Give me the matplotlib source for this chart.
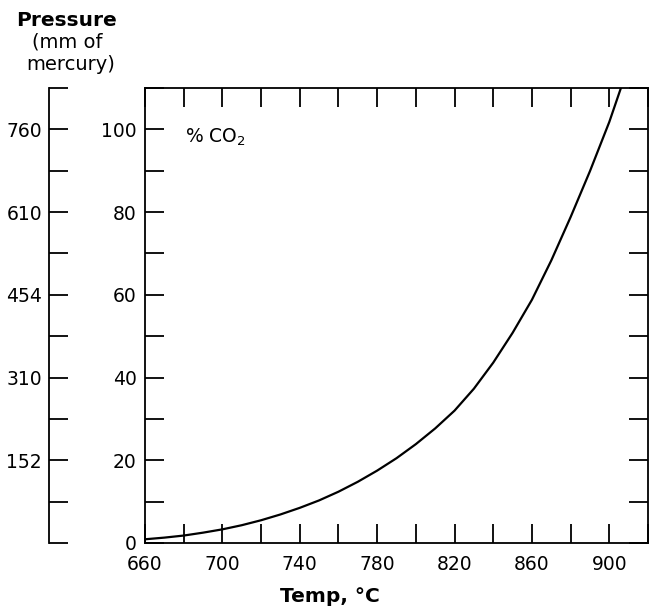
import matplotlib
matplotlib.use("Agg")
import matplotlib.pyplot as plt
from matplotlib.ticker import MultipleLocator, FixedLocator, FixedFormatter

plt.rcParams['font.family'] = ['DejaVu Sans']

# Data
temps = [660, 670, 680, 690, 700, 710, 720, 730, 740, 750, 760, 770, 780, 790,
         800, 810, 820, 830, 840, 850, 860, 870, 880, 890, 900, 906]
pct_co2 = [0.9, 1.3, 1.8, 2.5, 3.3, 4.3, 5.5, 6.9, 8.5, 10.3, 12.4, 14.8, 17.5, 20.5,
           23.9, 27.7, 32.0, 37.3, 43.6, 50.8, 58.8, 68.3, 78.8, 89.9, 101.8, 110.0]

x_major = [660, 700, 740, 780, 820, 860, 900]
y_major = [0, 20, 40, 60, 80, 100]
pressure_pos = [20, 40, 60, 80, 100]
pressure_labels = ["152", "310", "454", "610", "760"]

W, H = 649, 608
fig = plt.figure(figsize=(W / 100, H / 100), dpi=100)

left, right, top, bottom = 145, 648, 88, 543
ax = fig.add_axes([left / W, 1 - bottom / H, (right - left) / W, (bottom - top) / H])
ax.plot(temps, pct_co2, color='black', lw=1.6)
ax.set_xlim(660, 920)
ax.set_ylim(0, 110)

for s in ax.spines.values():
    s.set_linewidth(1.3)

ax.xaxis.set_major_locator(FixedLocator(x_major))
ax.xaxis.set_minor_locator(MultipleLocator(20))
ax.yaxis.set_major_locator(FixedLocator(y_major))
ax.yaxis.set_minor_locator(MultipleLocator(10))
ax.tick_params(which='both', direction='in', length=14, width=1.3,
               top=True, right=True, labelsize=13.5)
ax.tick_params(axis='x', pad=9)
ax.tick_params(axis='y', pad=6)

ax.text(0.08, 0.892, "% CO$_2$", transform=ax.transAxes, fontsize=13.5,
        ha='left', va='center')

# secondary pressure axis
ax2 = fig.add_axes([49 / W, 1 - bottom / H, 0.02, (bottom - top) / H])
ax2.set_ylim(0, 110)
ax2.set_xlim(0, 1)
for k in ['top', 'right', 'bottom']:
    ax2.spines[k].set_visible(False)
ax2.spines['left'].set_linewidth(1.3)
ax2.patch.set_visible(False)
ax2.set_xticks([])
ax2.yaxis.set_major_locator(FixedLocator(pressure_pos))
ax2.yaxis.set_major_formatter(FixedFormatter(pressure_labels))
ax2.yaxis.set_minor_locator(MultipleLocator(10))
ax2.tick_params(which='both', direction='in', length=14, width=1.3, labelsize=13.5, pad=5)

# titles
fig.text(67 / W, 1 - 20 / H, "Pressure", ha='center', va='center', fontsize=14.5, fontweight='bold')
fig.text(67 / W, 1 - 42 / H, "(mm of", ha='center', va='center', fontsize=14)
fig.text(71 / W, 1 - 64 / H, "mercury)", ha='center', va='center', fontsize=14)
fig.text(330 / W, 1 - 596 / H, "Temp, °C", ha='center', va='center', fontsize=14.5, fontweight='bold')

fig.savefig("out.png", dpi=100)
